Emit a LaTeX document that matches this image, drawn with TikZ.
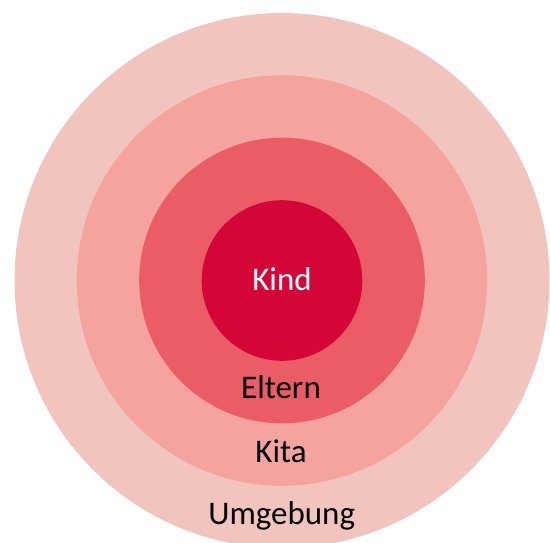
\documentclass[tikz,border=0pt]{standalone}
\usepackage{fontspec}
\setmainfont{Carlito}
\definecolor{umgebungred}{HTML}{F2C4BE}
\definecolor{kitared}{HTML}{F4A39F}
\definecolor{elternred}{HTML}{EA5D66}
\definecolor{kindred}{HTML}{D40638}
\tikzset{
 ring/.style={draw=none},
 ringlabel/.style={anchor=base,inner sep=0pt,font=\fontsize{33}{40}\selectfont}
}
\begin{document}
\begin{tikzpicture}[x=1pt,y=-1pt]
 \useasboundingbox (0,0) rectangle (550,542);
 \clip (0,0) rectangle (550,542);
 % rings from outside in
 \fill[ring,umgebungred](282,280.5) circle (267.5);
 \fill[ring,kitared](282,280.5) circle (205.3);
 \fill[ring,elternred](282,280.5) circle (142.8);
 \fill[ring,kindred](282,280.5) circle (80.3);
 % labels, placed on their baselines
 \node[ringlabel,text=white] (kind) at (282,290) {Kind};
 \node[ringlabel] (eltern) at (281,398.5) {Eltern};
 \node[ringlabel] (kita) at (281,462.7) {Kita};
 \node[ringlabel] (umgebung) at (281.7,524) {Umgebung};
\end{tikzpicture}
\end{document}
